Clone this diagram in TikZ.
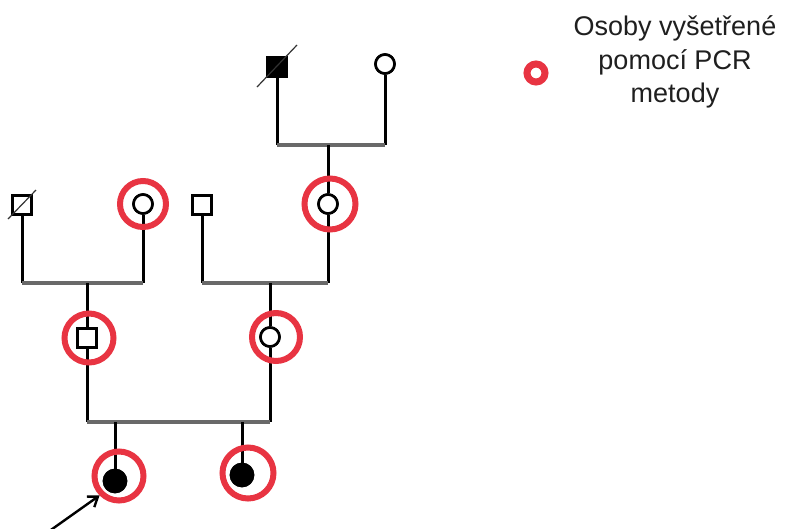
\documentclass[tikz,border=0pt]{standalone}
\usepackage{fontspec}
\setmainfont{Liberation Sans}
\usetikzlibrary{arrows.meta}
\definecolor{pcrred}{RGB}{232,52,66}
\definecolor{mateline}{RGB}{105,105,105}
\tikzset{
  male/.style={draw=black, line width=2.6pt, rectangle, minimum size=19pt, inner sep=0pt, fill=white},
  female/.style={draw=black, line width=2.6pt, circle, minimum size=19pt, inner sep=0pt, fill=white},
  affected/.style={fill=black},
  pcrring/.style={draw=pcrred, line width=6pt, circle, inner sep=0pt},
  vline/.style={draw=black, line width=3pt},
  hline/.style={draw=mateline, line width=3.4pt},
  deceased/.style={draw=black!80, line width=1.2pt},
}
\begin{document}
\begin{tikzpicture}[x=1pt, y=-1pt]
\useasboundingbox (0,0) rectangle (786,528);

% generation I
\node[male, affected] (gf) at (277,67) {};
\node[female] (gm) at (385,64) {};
\coordinate (mateI) at (328,145);

% generation II
\node[male] (p1) at (22,205) {};
\node[female] (p2) at (143,204) {};
\node[male] (p3) at (202,205) {};
\node[female] (p4) at (328,204) {};
\coordinate (mateIIa) at (87,283);
\coordinate (mateIIb) at (270,283);

% generation III
\node[male] (f3) at (87,338) {};
\node[female] (m3) at (270,337) {};
\coordinate (mateIII) at (0,422);

% generation IV
\node[female, affected, minimum size=22pt] (ch1) at (115,481) {};
\node[female, affected, minimum size=22pt] (ch2) at (242,475) {};

% descent and mating lines
\draw[vline] (gf.south) -- (gf |- mateI);
\draw[vline] (gm.south) -- (gm |- mateI);
\draw[hline] (gf |- mateI) -- (gm |- mateI);
\draw[vline] (mateI) -- (p4.north);

\draw[vline] (p1.south) -- (p1 |- mateIIa);
\draw[vline] (p2.south) -- (p2 |- mateIIa);
\draw[hline] (p1 |- mateIIa) -- (p2 |- mateIIa);
\draw[vline] (mateIIa) -- (f3.north);

\draw[vline] (p3.south) -- (p3 |- mateIIb);
\draw[vline] (p4.south) -- (p4 |- mateIIb);
\draw[hline] (p3 |- mateIIb) -- (p4 |- mateIIb);
\draw[vline] (mateIIb) -- (m3.north);

\draw[vline] (f3.south) -- (f3 |- mateIII);
\draw[vline] (m3.south) -- (m3 |- mateIII);
\draw[hline] (f3 |- mateIII) -- (m3 |- mateIII);
\draw[vline] (ch1 |- mateIII) -- (ch1.center);
\draw[vline] (ch2 |- mateIII) -- (ch2.center);

% redraw symbols above the lines
\node[male, affected] at (gf) {};
\node[female] at (gm) {};
\node[male] at (p1) {};
\node[female] at (p2) {};
\node[male] at (p3) {};
\node[female] at (p4) {};
\node[male] at (f3) {};
\node[female] at (m3) {};
\node[female, affected, minimum size=22pt] at (ch1) {};
\node[female, affected, minimum size=22pt] at (ch2) {};

% deceased marks
\draw[deceased] (gf.center) ++(-20,20) -- ++(40,-42);
\draw[deceased] (p1.center) ++(-14,14) -- ++(28,-29);

% individuals tested by PCR
\node[pcrring, minimum size=46pt] (r2) at (143,204) {};
\node[pcrring, minimum size=51pt] (r4) at (330,204) {};
\node[pcrring, minimum size=49pt] (r5) at (89,338) {};
\node[pcrring, minimum size=48pt] (r6) at (276,337) {};
\node[pcrring, minimum size=49pt] (r7) at (119,476) {};
\node[pcrring, minimum size=51pt] (r8) at (248,473) {};

% proband arrow
\coordinate (arrtail) at (48,532);
\draw[line width=2.4pt, -{Straight Barb[length=9pt, width=13pt, line width=2.4pt]}] (arrtail) -- (r7.south west);

% legend
\node[pcrring, line width=7pt, minimum size=18pt] (legring) at (536,73) {};
\node[align=center, text=black!88, font=\fontsize{27}{33.5}\selectfont, inner sep=0pt] (legtext) at (675,62)
  {Osoby vyšetřené\\pomocí PCR\\metody};
\end{tikzpicture}
\end{document}
